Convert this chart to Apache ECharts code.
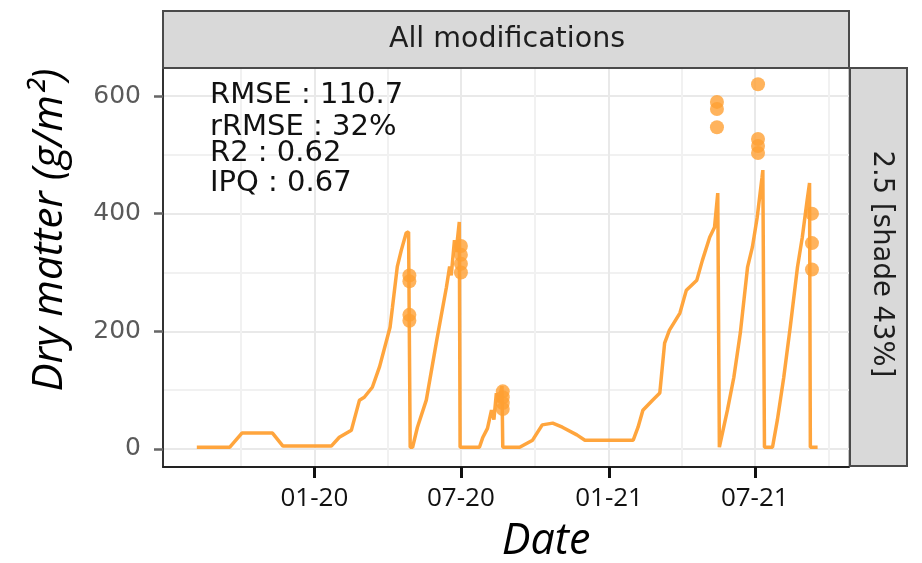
<!DOCTYPE html>
<html>
<head>
<meta charset="utf-8">
<script src="https://cdn.jsdelivr.net/npm/echarts@6/dist/echarts.min.js"></script>
<style>
html,body{margin:0;padding:0;background:#fff;}
#chart{width:922px;height:563px;}
</style>
</head>
<body>
<div id="chart"></div>
<script>
// ---- data ----
const simDates = ['2019-08-08','2019-09-18','2019-10-03','2019-11-10','2019-11-23','2020-01-22','2020-02-01','2020-02-16','2020-02-26','2020-03-03','2020-03-13','2020-03-22','2020-04-04','2020-04-07','2020-04-13','2020-04-18','2020-04-24','2020-04-27','2020-04-29','2020-05-02','2020-05-08','2020-05-19','2020-06-01','2020-06-13','2020-06-17','2020-06-19','2020-06-23','2020-06-25','2020-06-29','2020-06-30','2020-07-24','2020-07-28','2020-08-03','2020-08-08','2020-08-11','2020-08-14','2020-08-17','2020-08-21','2020-08-22','2020-09-12','2020-09-28','2020-10-10','2020-10-23','2020-11-04','2020-11-22','2020-12-02','2021-01-31','2021-02-06','2021-02-12','2021-02-24','2021-03-05','2021-03-11','2021-03-17','2021-03-30','2021-04-07','2021-04-20','2021-04-27','2021-05-06','2021-05-12','2021-05-16','2021-05-18','2021-05-28','2021-06-05','2021-06-13','2021-06-22','2021-06-28','2021-07-04','2021-07-10','2021-07-11','2021-07-13','2021-07-23','2021-07-29','2021-08-06','2021-08-14','2021-08-23','2021-08-29','2021-09-04','2021-09-07','2021-09-08','2021-09-17'];
const simValues = [3,3,27,27,5,5,20,32,83,88,105,140,207,241,310,338,367,369,3,3,37,83,185,275,310,295,355,335,386,3,3,19,35,66,50,95,80,107,3,3,15,41,44,37,24,15,15,37,66,83,95,180,202,231,270,287,321,360,377,435,3,66,122,197,309,343,394,462,474,3,3,49,122,207,309,360,423,452,3,3];

const obsDates = ['2020-04-28','2020-04-28','2020-04-28','2020-04-28','2020-07-01','2020-07-01','2020-07-01','2020-07-01','2020-08-22','2020-08-22','2020-08-22','2020-08-22','2021-05-15','2021-05-15','2021-05-15','2021-07-05','2021-07-05','2021-07-05','2021-07-05','2021-09-10','2021-09-10','2021-09-10'];
const obsValues = [295,285,228,218,345,330,315,300,98,88,78,68,590,578,547,620,527,515,503,400,350,305];

const yTicks = [0,200,400,600];
const yGridValues = [0,100,200,300,400,500,600];
const xTickDates = ['2020-01-01','2020-07-01','2021-01-01','2021-07-01'];
const xTickLabels = ['01-20','07-20','01-21','07-21'];
const xGridDates = ['2019-10-01','2020-01-01','2020-04-01','2020-07-01','2020-10-01','2021-01-01','2021-04-01','2021-07-01','2021-10-01'];

const xMin = '2019-06-27', xMax = '2021-10-26';
const yMin = -30.6, yMax = 647.6;

const statsLines = ['RMSE : 110.7','rRMSE : 32%','R2 : 0.62','IPQ : 0.67'];
const stripTop = 'All modifications';
const stripRight = '2.5 [shade 43%]';
const xTitle = 'Date';
const yTitle = 'Dry matter (g/m\u00B2)';

// ---- helpers ----
function ts(s){ const p = s.split('-').map(Number); return Date.UTC(p[0], p[1]-1, p[2]); }
const xTickTs = xTickDates.map(ts);
const xGridTs = xGridDates.map(ts);

const chart = echarts.init(document.getElementById('chart'), null, {renderer:'canvas'});
const ORANGE = '#FFA033';

const option = {
  animation: false,
  backgroundColor: '#ffffff',
  grid: { left: 163, right: 73, top: 68, bottom: 96, show: true, backgroundColor: '#fff', borderColor: '#8a8a8a', borderWidth: 1 },
  xAxis: [
    { type: 'value', min: ts(xMin), max: ts(xMax), position: 'bottom', scale: true,
      axisLine: {show:false, onZero:false}, axisLabel: {show:false},
      axisTick: {show:false, customValues: xGridTs},
      splitLine: {show:true, lineStyle:{color:['#f1f1f1','#e9e9e9'], width:2}} },
    { type: 'value', min: ts(xMin), max: ts(xMax), position: 'bottom', scale: true,
      axisLine: {show:true, onZero:false, lineStyle:{color:'#222', width:2}},
      axisTick: {show:true, customValues: xTickTs, length: 11, lineStyle:{color:'#111', width:3}},
      axisLabel: {show:true, customValues: xTickTs, margin: 19, fontFamily:'Open Sans', fontSize: 26, color:'#111',
        formatter: function(v){ const i = xTickTs.indexOf(v); return i >= 0 ? xTickLabels[i] : ''; } },
      splitLine: {show:false} }
  ],
  yAxis: [
    { type: 'value', min: yMin, max: yMax, position: 'left',
      axisLine: {show:false, onZero:false}, axisLabel: {show:false},
      axisTick: {show:false, customValues: yGridValues},
      splitLine: {show:true, lineStyle:{color:['#e9e9e9','#f1f1f1'], width:2}} },
    { type: 'value', min: yMin, max: yMax, position: 'left',
      axisLine: {show:true, onZero:false, lineStyle:{color:'#333', width:2}},
      axisTick: {show:true, customValues: yTicks, length: 9, lineStyle:{color:'#666', width:2.5}},
      axisLabel: {show:true, customValues: yTicks, margin: 22, fontFamily:'DejaVu Sans', fontSize: 25, color:'#5a5a5a'},
      splitLine: {show:false} }
  ],
  series: [
    { type: 'line', xAxisIndex: 0, yAxisIndex: 0, showSymbol: false, symbol: 'none',
      lineStyle: {color: ORANGE, width: 3.5, opacity: 0.95},
      data: simDates.map((d,i) => [ts(d), simValues[i]]), z: 3 },
    { type: 'scatter', xAxisIndex: 0, yAxisIndex: 0, symbolSize: 14,
      itemStyle: {color: ORANGE, opacity: 0.8},
      data: obsDates.map((d,i) => [ts(d), obsValues[i]]), z: 4 }
  ],
  graphic: [
    { type:'rect', shape:{x:163, y:11, width:686, height:57}, style:{fill:'#d9d9d9', stroke:'#4a4a4a', lineWidth:2}, z: 10 },
    { type:'text', x: 507, y: 40, style:{text: stripTop, fontFamily:'DejaVu Sans', fontSize: 28.5, fill:'#1e1e1e', align:'center', verticalAlign:'middle'}, z: 11 },
    { type:'rect', shape:{x:850, y:68, width:57, height:398}, style:{fill:'#d9d9d9', stroke:'#4a4a4a', lineWidth:2}, z: 10 },
    { type:'text', x: 881, y: 264, rotation: -Math.PI/2, style:{text: stripRight, fontFamily:'DejaVu Sans', fontSize: 27.5, fill:'#1e1e1e', align:'center', verticalAlign:'middle'}, z: 11 },
    { type:'text', x: 210, y: 95, style:{text: statsLines[0], fontFamily:'DejaVu Sans', fontSize: 29, fill:'#111', align:'left', verticalAlign:'middle'}, z: 11 },
    { type:'text', x: 210, y: 127, style:{text: statsLines[1], fontFamily:'DejaVu Sans', fontSize: 29, fill:'#111', align:'left', verticalAlign:'middle'}, z: 11 },
    { type:'text', x: 210, y: 153, style:{text: statsLines[2], fontFamily:'DejaVu Sans', fontSize: 29, fill:'#111', align:'left', verticalAlign:'middle'}, z: 11 },
    { type:'text', x: 210, y: 183, style:{text: statsLines[3], fontFamily:'DejaVu Sans', fontSize: 29, fill:'#111', align:'left', verticalAlign:'middle'}, z: 11 },
    { type:'text', x: 546, y: 542, style:{text: xTitle, fontFamily:'Open Sans', fontStyle:'italic', fontSize: 43, fill:'#000', align:'center', verticalAlign:'middle'}, z: 11 },
    { type:'text', x: 50, y: 230, rotation: Math.PI/2, style:{text: yTitle, fontFamily:'Open Sans', fontStyle:'italic', fontSize: 42, fill:'#000', align:'center', verticalAlign:'middle'}, z: 11 }
  ]
};
chart.setOption(option);
</script>
</body>
</html>
